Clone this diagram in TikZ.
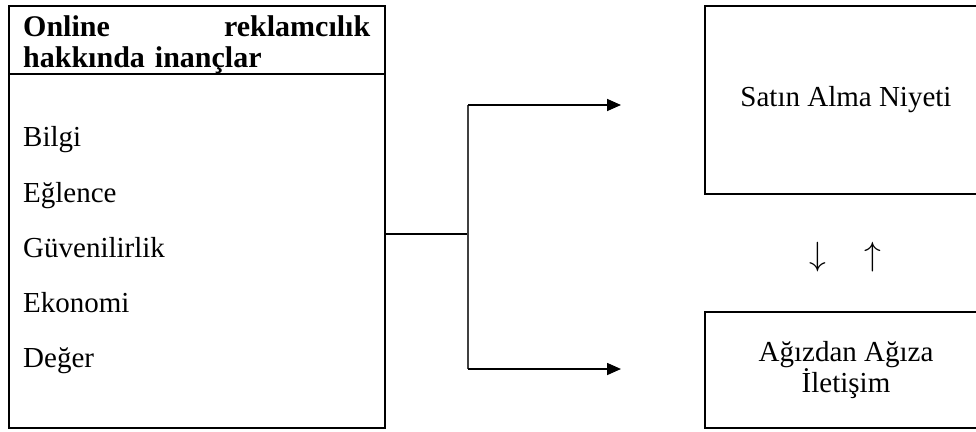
\documentclass[tikz,border=0pt]{standalone}
\usepackage{graphicx}
\usepackage{fontspec}
\setmainfont{Liberation Serif}
\usetikzlibrary{arrows.meta}
\begin{document}
\begin{tikzpicture}[x=1pt,y=-1pt,
  frame/.style={draw,line width=2pt,inner sep=0pt},
  txt/.style={font=\fontsize{29}{30}\selectfont,inner sep=0pt},
  sign/.style={font=\fontsize{29}{30}\selectfont,inner sep=0pt},
  link/.style={line width=1.6pt},
  tip/.style={-{Triangle[length=14pt,width=12pt]}}]
\useasboundingbox (0,0) rectangle (976,431);

% left block: beliefs about online advertising
\node[frame,anchor=north west,minimum width=376pt,minimum height=422pt] (beliefs) at (8,5) {};
\coordinate (sep) at (0,74);
\draw[line width=2pt] (beliefs.west |- sep) -- (beliefs.east |- sep);
\node[txt,font=\fontsize{30}{31}\selectfont\bfseries,text width=347pt,align=left,anchor=north west] (head) at (23,15)
  {Online\hfill reklamcılık\\hakkında inançlar};
\node[txt,anchor=base west] (bilgi)  at (23,146) {Bilgi};
\node[txt,anchor=base west] (eglence) at (23,202) {Eğlence};
\node[txt,anchor=base west] (guven)  at (23,257) {Güvenilirlik};
\node[txt,anchor=base west] (ekonomi) at (23,312) {Ekonomi};
\node[txt,anchor=base west] (deger)  at (23,367) {Değer};

% right blocks
\node[frame,txt,anchor=north west,minimum width=282pt,minimum height=188pt] (intent) at (704,5) {Satın Alma Niyeti};
\node[frame,txt,anchor=north west,minimum width=282pt,minimum height=116pt,align=center] (wom) at (704,311) {Ağızdan Ağıza\\İletişim};
\node[sign] (down) at (818,257) {\scalebox{1.35}{$\downarrow$}};
\node[sign] (up) at (873,257) {\scalebox{1.35}{$\uparrow$}};

% connectors
\coordinate (split) at (468,234);
\coordinate (toIntent) at (621,105);
\coordinate (toWom) at (621,369);
\draw[line width=2.5pt] (beliefs.east |- split) -- (split);
\draw[line width=1.3pt,black!75] (split |- toIntent) -- (split |- toWom);
\draw[link,tip] (split |- toIntent) -- (toIntent);
\draw[link,tip] (split |- toWom) -- (toWom);
\end{tikzpicture}
\end{document}
